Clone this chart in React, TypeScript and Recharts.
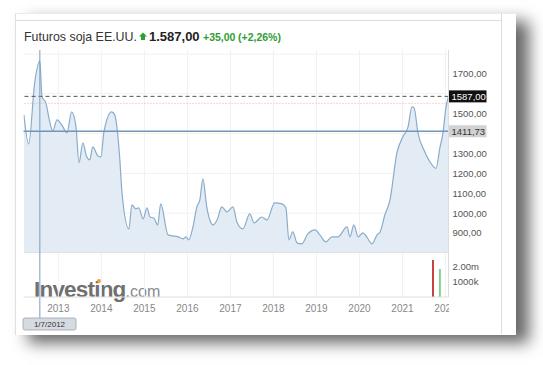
import React from 'react';
import { ComposedChart, Area, Bar, Cell, XAxis, YAxis, CartesianGrid, ReferenceLine } from 'recharts';

// ---- data ----
const years = [
  2012.20, 2012.31, 2012.45, 2012.57, 2012.62, 2012.71, 2012.80, 2012.87, 2012.97,
  2013.08, 2013.20, 2013.31, 2013.41, 2013.48, 2013.57, 2013.66, 2013.73, 2013.80, 2013.92, 2013.99,
  2014.06, 2014.24, 2014.31, 2014.43, 2014.48, 2014.64, 2014.71, 2014.80, 2014.87, 2014.97,
  2015.06, 2015.13, 2015.22, 2015.31, 2015.38, 2015.55, 2015.66, 2015.78, 2015.90, 2015.97,
  2016.03, 2016.13, 2016.22, 2016.29, 2016.36, 2016.45, 2016.55, 2016.59, 2016.69, 2016.80, 2016.92,
  2017.06, 2017.15, 2017.29, 2017.45, 2017.55, 2017.73, 2017.85,
  2018.03, 2018.20, 2018.29, 2018.36, 2018.45, 2018.55, 2018.66, 2018.80, 2018.97,
  2019.08, 2019.22, 2019.36, 2019.50, 2019.71, 2019.78, 2019.87, 2019.97,
  2020.08, 2020.17, 2020.29, 2020.41, 2020.48, 2020.59, 2020.71, 2020.87,
  2021.01, 2021.13, 2021.22, 2021.27, 2021.36, 2021.52, 2021.64, 2021.78, 2021.87, 2021.94, 2022.01, 2022.07,
];
const prices = [
  1494, 1348, 1655, 1765, 1585, 1554, 1459, 1414, 1469,
  1444, 1404, 1509, 1434, 1253, 1353, 1283, 1268, 1333, 1288, 1283,
  1409, 1509, 1494, 1268, 1102, 921, 1042, 1022, 1027, 971,
  1027, 981, 976, 941, 1047, 891, 886, 881, 871, 881,
  866, 931, 1032, 1067, 1172, 1032, 951, 941, 966, 1032, 1007,
  1032, 956, 921, 997, 951, 981, 966,
  1052, 1047, 1027, 866, 906, 851, 846, 896, 916,
  891, 856, 881, 881, 931, 881, 941, 881,
  901, 881, 846, 891, 906, 991, 1067, 1303,
  1384, 1434, 1534, 1529, 1404, 1308, 1258, 1225, 1330, 1400, 1530, 1587,
];
const volYears = [2021.72, 2021.88];
const volumes = [2470000, 1870000];
const volColors = ['#c8423f', '#86cf90'];
const yearTicks = [2013, 2014, 2015, 2016, 2017, 2018, 2019, 2020, 2021, 2022];
const priceTicks = [900, 1000, 1100, 1200, 1300, 1500, 1700];
const priceGrid = [900, 1000, 1100, 1200, 1300, 1400, 1500, 1600, 1700, 1800];
const volTicks = [1000000, 2000000];
const lastPrice = 1587;
const prevClose = 1552;
const levelLine = 1411.73;
const crosshairYear = 2012.57;
const crosshairLabel = '1/7/2012';

const priceData = years.map((t, i) => ({ t, p: prices[i] }));
const volData = volYears.map((t, i) => ({ t, v: volumes[i], c: volColors[i] }));

// ---- layout ----
const W = 543;
const PLOT_LEFT = 23.5;
const AXIS_W = 94.5;
const PLOT_RIGHT = W - AXIS_W;
const X_DOMAIN: [number, number] = [2012.19, 2022.07];
const FONT = '"Liberation Sans", Arial, sans-serif';

const fmtPrice = (v: number) => v.toFixed(2).replace('.', ',');
const fmtVol = (v: number) => (v >= 2000000 ? (v / 1000000).toFixed(2) + 'm' : Math.round(v / 1000) + 'k');

const PriceTag = ({ viewBox, text, bg, color }: any) => {
  if (!viewBox) return null;
  const x = viewBox.x + viewBox.width;
  const y = viewBox.y;
  return (
    <g>
      <rect x={x} y={y - 6} width={38} height={12} fill={bg} />
      <text x={x + 3} y={y + 3.5} fontSize={9.5} fill={color} fontFamily={FONT}>{text}</text>
    </g>
  );
};

const DateTag = ({ viewBox }: any) => {
  if (!viewBox) return null;
  const x = viewBox.x;
  const bottom = viewBox.y + viewBox.height;
  const bx = Math.max(x - 26.5, PLOT_LEFT - 0.5);
  return (
    <g>
      <line x1={x} x2={x} y1={bottom} y2={bottom + 21} stroke="#7b9cbd" strokeWidth={1} />
      <rect x={bx} y={bottom + 21} width={53} height={12} rx={2} fill="#d6dbe1" stroke="#9aa3ad" strokeWidth={0.8} />
      <text x={bx + 26.5} y={bottom + 30} fontSize={8} textAnchor="middle" fill="#333" fontFamily={FONT}>{crosshairLabel}</text>
    </g>
  );
};

const XTick = ({ x, y, payload }: any) => {
  const id = `xclip${payload.value}`;
  return (
    <g>
      <defs>
        <clipPath id={id}>
          <rect x={PLOT_LEFT} y={y - 4} width={PLOT_RIGHT - PLOT_LEFT + 0.5} height={20} />
        </clipPath>
      </defs>
      <text x={x} y={y} dy="0.71em" textAnchor="middle" fontSize={10} fill="#888" fontFamily={FONT} clipPath={`url(#${id})`}>
        {payload.value}
      </text>
    </g>
  );
};

export default function App() {
  return (
    <div style={{ position: 'absolute', left: 0, top: 0, width: W, height: 365, background: '#fff', overflow: 'hidden' }}>
      {/* card */}
      <div
        style={{
          position: 'absolute', left: 15, top: 13, width: 500, height: 321, background: '#fff',
          borderLeft: '1px solid #e0e0e0', borderTop: '1px solid #ececec',
          boxShadow: '13px 8px 15px rgba(0,0,0,0.6)',
        }}
      />
      <div style={{ position: 'absolute', left: 15, top: 20, width: 486, height: 1, background: '#dcdcdc' }} />
      <div style={{ position: 'absolute', left: 501, top: 13, width: 1, height: 321, background: '#dcdcdc' }} />

      <svg width={W} height={365} style={{ position: 'absolute', left: 0, top: 0 }}>
        <text x={24} y={41} fontSize={12.4} fill="#333" fontFamily={FONT}>Futuros soja EE.UU.</text>
        <polygon points="143,32.5 147,36.5 145,36.5 145,40 141,40 141,36.5 139,36.5" fill="#2f9e35" />
        <text x={149} y={41} fontSize={13} fontWeight="bold" fill="#222" fontFamily={FONT}>1.587,00</text>
        <text x={203} y={41} fontSize={10.5} fontWeight="bold" fill="#2f9e35" fontFamily={FONT}>+35,00</text>
        <text x={238} y={41} fontSize={10.5} fontWeight="bold" fill="#2f9e35" fontFamily={FONT}>(+2,26%)</text>
        <text x={34} y={297} fontSize={22.5} fontWeight="bold" fill="#707070" fontFamily={FONT} letterSpacing={-0.8}>
          Investing<tspan fontSize={16} fontWeight="normal" fill="#8a8a8a" letterSpacing={0}>.com</tspan>
        </text>
        <circle cx={99} cy={281} r={2} fill="#f0a030" />
      </svg>

      <div style={{ position: 'absolute', left: 0, top: 0 }}>
        <ComposedChart width={W} height={253} data={priceData} margin={{ top: 50, right: 0, bottom: 0, left: PLOT_LEFT }}>
          <CartesianGrid stroke="#f1f1f1" horizontalValues={priceGrid} verticalValues={yearTicks} />
          <XAxis dataKey="t" type="number" domain={X_DOMAIN} ticks={yearTicks} allowDataOverflow hide />
          <YAxis
            orientation="right" type="number" domain={[800, 1820]} ticks={priceTicks} allowDataOverflow
            width={AXIS_W} axisLine={{ stroke: '#dddddd' }} tickLine={false} tickSize={2} tickMargin={2}
            tick={{ fontSize: 9.5, fill: '#555', fontFamily: FONT }} tickFormatter={fmtPrice}
          />
          <Area type="monotone" dataKey="p" stroke="#8aaccb" strokeWidth={1.2} fill="#e3ecf4" fillOpacity={1} isAnimationActive={false} dot={false} />
          <ReferenceLine y={800} stroke="#d8d8d8" />
          <ReferenceLine y={prevClose} stroke="#f2a3a3" strokeDasharray="1 2" />
          <ReferenceLine y={levelLine} stroke="#7196bb" strokeWidth={1.5}
            label={{ content: (p: any) => <PriceTag viewBox={p.viewBox} text={fmtPrice(levelLine)} bg="#d2d2d2" color="#333" /> }} />
          <ReferenceLine y={lastPrice} stroke="#555" strokeDasharray="4 3"
            label={{ content: (p: any) => <PriceTag viewBox={p.viewBox} text={fmtPrice(lastPrice)} bg="#111" color="#fff" /> }} />
          <ReferenceLine x={crosshairYear} stroke="#7b9cbd" />
        </ComposedChart>
      </div>

      <div style={{ position: 'absolute', left: 0, top: 253 }}>
        <ComposedChart width={W} height={80} data={volData} margin={{ top: 0, right: 0, bottom: 0, left: PLOT_LEFT }}>
          <CartesianGrid stroke="#f1f1f1" horizontal={false} verticalValues={yearTicks} />
          <XAxis dataKey="t" type="number" domain={X_DOMAIN} ticks={yearTicks} allowDataOverflow height={36}
            axisLine={{ stroke: '#dddddd' }} tickLine={false} tick={<XTick />} interval={0} />
          <YAxis
            orientation="right" type="number" domain={[0, 2933333]} ticks={volTicks} allowDataOverflow
            width={AXIS_W} axisLine={{ stroke: '#dddddd' }} tickLine={false} tickSize={2} tickMargin={2}
            tick={{ fontSize: 9.5, fill: '#555', fontFamily: FONT }} tickFormatter={fmtVol}
          />
          <Bar dataKey="v" barSize={2} isAnimationActive={false}>
            {volData.map((d, i) => (
              <Cell key={i} fill={d.c} />
            ))}
          </Bar>
          <ReferenceLine x={crosshairYear} stroke="#7b9cbd" label={{ content: (p: any) => <DateTag viewBox={p.viewBox} /> }} />
        </ComposedChart>
      </div>
    </div>
  );
}
